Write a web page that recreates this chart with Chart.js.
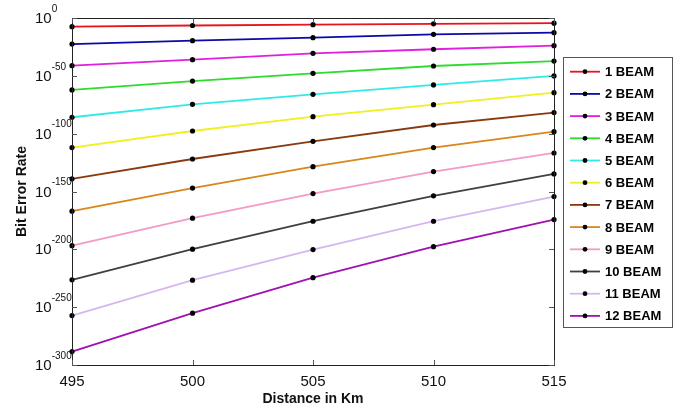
<!DOCTYPE html>
<html>
<head>
<meta charset="utf-8">
<script src="https://cdn.jsdelivr.net/npm/chart.js@4"></script>
<style>
  html, body { margin: 0; padding: 0; background: #fff; }
  #wrap { width: 676px; height: 410px; }
</style>
</head>
<body>
<div id="wrap"><canvas id="berChart" width="676" height="410"></canvas></div>
<script>
// distance (Km) on the x axis
const distances = [495, 500, 505, 510, 515];

// log10(BER), one array per beam count
const beam1 = [-7.5, -6.5, -5.8, -5.0, -4.5];
const beam2 = [-22.5, -19.6, -17.0, -14.1, -12.7];
const beam3 = [-41.2, -36.0, -30.5, -27.0, -23.9];
const beam4 = [-62.2, -54.5, -47.8, -41.5, -37.2];
const beam5 = [-85.8, -74.6, -66.0, -57.9, -50.1];
const beam6 = [-112.0, -97.7, -85.3, -74.9, -64.6];
const beam7 = [-139.0, -121.9, -106.6, -92.5, -81.8];
const beam8 = [-167.0, -147.0, -128.5, -112.0, -98.3];
const beam9 = [-196.8, -173.1, -151.8, -132.8, -116.7];
const beam10 = [-226.4, -199.9, -175.7, -153.7, -134.8];
const beam11 = [-257.3, -226.7, -200.2, -175.7, -154.4];
const beam12 = [-288.4, -255.2, -224.5, -197.7, -174.3];

const seriesLabels = ["1 BEAM", "2 BEAM", "3 BEAM", "4 BEAM", "5 BEAM", "6 BEAM",
  "7 BEAM", "8 BEAM", "9 BEAM", "10 BEAM", "11 BEAM", "12 BEAM"];
const seriesValues = [beam1, beam2, beam3, beam4, beam5, beam6,
  beam7, beam8, beam9, beam10, beam11, beam12];
const seriesColors = ["#e8141b", "#0a0aa8", "#e020dc", "#2edc2e", "#30eaea", "#f0f020",
  "#8a3a10", "#d9861c", "#f39ac6", "#404040", "#d6b6f0", "#a012b0"];

// y tick exponents (labels 10^n)
const yTickExps = [0, -50, -100, -150, -200, -250, -300];

const datasets = seriesLabels.map((label, i) => ({
  label: label,
  data: distances.map((d, j) => ({ x: d, y: seriesValues[i][j] })),
  borderColor: seriesColors[i],
  backgroundColor: seriesColors[i],
  borderWidth: 1.8,
  pointRadius: 2.6,
  pointBackgroundColor: "#000",
  pointBorderColor: "#000",
  pointBorderWidth: 0,
  tension: 0,
  clip: false,
}));

// box, inward ticks, superscript y labels and the boxed legend
const matlabLook = {
  id: "matlabLook",
  afterDraw(chart) {
    const ctx = chart.ctx;
    const a = chart.chartArea;
    const xs = chart.scales.x;
    const ys = chart.scales.y;
    ctx.save();
    ctx.strokeStyle = "#222";
    ctx.lineWidth = 1;
    ctx.strokeRect(Math.round(a.left) + 0.5, Math.round(a.top) + 0.5,
      Math.round(a.right - a.left), Math.round(a.bottom - a.top));

    ctx.strokeStyle = "#555";
    ctx.beginPath();
    distances.forEach((d) => {
      const px = Math.round(xs.getPixelForValue(d)) + 0.5;
      ctx.moveTo(px, a.bottom); ctx.lineTo(px, a.bottom - 5);
      ctx.moveTo(px, a.top); ctx.lineTo(px, a.top + 5);
    });
    yTickExps.forEach((e) => {
      const py = Math.round(ys.getPixelForValue(e)) + 0.5;
      ctx.moveTo(a.left, py); ctx.lineTo(a.left + 5, py);
      ctx.moveTo(a.right, py); ctx.lineTo(a.right - 5, py);
    });
    ctx.stroke();

    // y labels: 10 with superscript exponent
    ctx.fillStyle = "#111";
    ctx.textBaseline = "middle";
    ctx.textAlign = "left";
    yTickExps.forEach((e) => {
      const py = ys.getPixelForValue(e);
      ctx.font = "15px 'Liberation Sans', Arial, sans-serif";
      ctx.fillText("10", 35, py + 1);
      const w = ctx.measureText("10").width;
      ctx.font = "10px 'Liberation Sans', Arial, sans-serif";
      ctx.fillText(String(e), 35 + w, py - 9);
    });

    // legend
    const bx = 563, by = 57, bw = 109, bh = 270;
    ctx.strokeStyle = "#555";
    ctx.strokeRect(bx + 0.5, by + 0.5, bw, bh);
    ctx.font = "bold 13px 'Liberation Sans', Arial, sans-serif";
    seriesLabels.forEach((label, i) => {
      const cy = 71.7 + i * 22.2;
      ctx.strokeStyle = seriesColors[i];
      ctx.lineWidth = 1.8;
      ctx.beginPath();
      ctx.moveTo(570, cy); ctx.lineTo(600, cy);
      ctx.stroke();
      ctx.fillStyle = "#000";
      ctx.beginPath();
      ctx.arc(585, cy, 2.4, 0, Math.PI * 2);
      ctx.fill();
      ctx.fillText(label, 605, cy + 1);
    });
    ctx.restore();
  },
};

const ctx = document.getElementById("berChart").getContext("2d");
new Chart(ctx, {
  type: "line",
  data: { datasets: datasets },
  options: {
    responsive: false,
    animation: false,
    layout: { padding: { left: 0, right: 122, top: 18, bottom: 0 } },
    plugins: {
      legend: { display: false },
      tooltip: { enabled: false },
    },
    scales: {
      x: {
        type: "linear",
        min: 495,
        max: 515,
        grid: { display: false },
        border: { display: false },
        ticks: {
          stepSize: 5,
          padding: 0,
          color: "#111",
          font: { family: "'Liberation Sans', Arial, sans-serif", size: 15 },
        },
        title: {
          display: true,
          text: "Distance in Km",
          color: "#111",
          padding: { top: 2, bottom: 2 },
          font: { family: "'Liberation Sans', Arial, sans-serif", size: 14, weight: "bold" },
        },
        afterFit: (scale) => { scale.height = 45; },
      },
      y: {
        type: "linear",
        min: -300,
        max: 0,
        grid: { display: false },
        border: { display: false },
        ticks: { display: false, stepSize: 50 },
        title: {
          display: true,
          text: "Bit Error Rate",
          color: "#111",
          padding: { top: 14, bottom: 0 },
          font: { family: "'Liberation Sans', Arial, sans-serif", size: 14, weight: "bold" },
        },
        afterFit: (scale) => { scale.width = 72; },
      },
    },
  },
  plugins: [matlabLook],
});
</script>
</body>
</html>
